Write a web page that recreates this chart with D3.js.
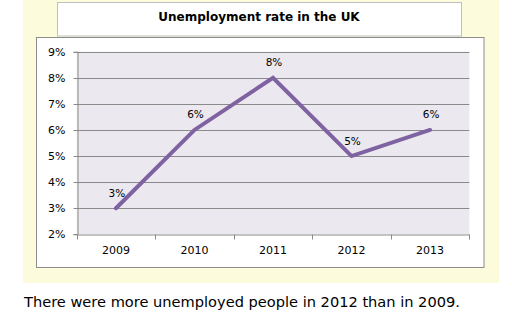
<!DOCTYPE html>
<html><head><meta charset="utf-8">
<script src="https://cdn.jsdelivr.net/npm/d3@7"></script>
<style>
html,body{margin:0;padding:0;background:#fff;}
svg{display:block;}
</style></head>
<body>
<svg id="c" width="512" height="333"></svg>
<script>
const years = ["2009","2010","2011","2012","2013"];
const rates = [3, 6, 8, 5, 6];
const yTicks = [2,3,4,5,6,7,8,9];
const title = "Unemployment rate in the UK";
const caption = "There were more unemployed people in 2012 than in 2009.";

const svg = d3.select("#c");
const font = "'DejaVu Sans', Verdana, sans-serif";

// yellow panel
svg.append("rect").attr("x",23).attr("y",0).attr("width",476).attr("height",283).attr("fill","#fcfcdc");
// title box
svg.append("rect").attr("x",57.5).attr("y",2.5).attr("width",404).attr("height",33.5).attr("fill","#fff").attr("stroke","#c0c0c0");
svg.append("text").attr("x",259).attr("y",20.5).attr("text-anchor","middle")
  .attr("font-family",font).attr("font-weight","bold").attr("font-size",12).attr("fill","#000").text(title);
// chart box
svg.append("rect").attr("x",36.5).attr("y",37.5).attr("width",447.5).attr("height",230).attr("fill","#fff").attr("stroke","#8c8c8c");

const x = d3.scaleBand().domain(years).range([76.7,469.3]).padding(0);
const y = d3.scaleLinear().domain([2,9]).range([234.3,51.7]);

const g = svg.append("g");
g.append("rect").attr("x",x.range()[0]).attr("y",y(9)).attr("width",x.range()[1]-x.range()[0]).attr("height",y(2)-y(9)).attr("fill","#ebe8ef");

// gridlines
g.selectAll("line.grid").data(yTicks.slice(1)).enter().append("line")
  .attr("x1",x.range()[0]).attr("x2",x.range()[1])
  .attr("y1",d=>Math.round(y(d))+0.5).attr("y2",d=>Math.round(y(d))+0.5)
  .attr("stroke","#8a8a8a").attr("stroke-width",1);

// y axis
const yAxis = d3.axisLeft(y).tickValues(yTicks).tickFormat(d=>d+"%").tickSize(4).tickPadding(8);
const ya = g.append("g").attr("transform",`translate(${Math.round(x.range()[0])+0.5},0)`).call(yAxis);
ya.selectAll("line").attr("stroke","#8a8a8a");
ya.selectAll(".tick").attr("transform",d=>`translate(0,${Math.round(y(d))+0.5})`);
ya.select(".domain").attr("stroke","#8a8a8a");
ya.selectAll("text").attr("font-family",font).attr("font-size",11).attr("fill","#000").attr("dy","0.35em").attr("x",-12);

// x axis
const xAxis = d3.axisBottom(x).tickSize(0).tickPadding(12);
const xa = g.append("g").attr("transform",`translate(0,${Math.round(y(2))+0.5})`).call(xAxis);
xa.select(".domain").attr("stroke","#8a8a8a");
xa.selectAll("text").attr("font-family",font).attr("font-size",11).attr("fill","#000");
// category boundary ticks
const bounds = years.map(d=>x(d)).concat([x.range()[1]]);
xa.selectAll("line.bt").data(bounds).enter().append("line")
  .attr("x1",d=>Math.round(d)+0.5).attr("x2",d=>Math.round(d)+0.5).attr("y1",0).attr("y2",5)
  .attr("stroke","#8a8a8a");

// line
const line = d3.line().x((d,i)=>x(years[i])+x.bandwidth()/2).y(d=>y(d));
g.append("path").datum(rates).attr("d",line).attr("fill","none")
  .attr("stroke","#7f62a2").attr("stroke-width",4).attr("stroke-linejoin","miter").attr("stroke-linecap","round");

// labels
g.selectAll("text.lbl").data(rates).enter().append("text")
  .attr("x",(d,i)=>x(years[i])+x.bandwidth()/2+1)
  .attr("y",d=>y(d)-11.5)
  .attr("text-anchor","middle").attr("font-family",font).attr("font-size",10.5).attr("fill","#000")
  .text(d=>d+"%");

// caption
svg.append("text").attr("x",24).attr("y",307).attr("font-family",font).attr("font-size",14.6).attr("fill","#000").text(caption);
</script>
</body></html>
